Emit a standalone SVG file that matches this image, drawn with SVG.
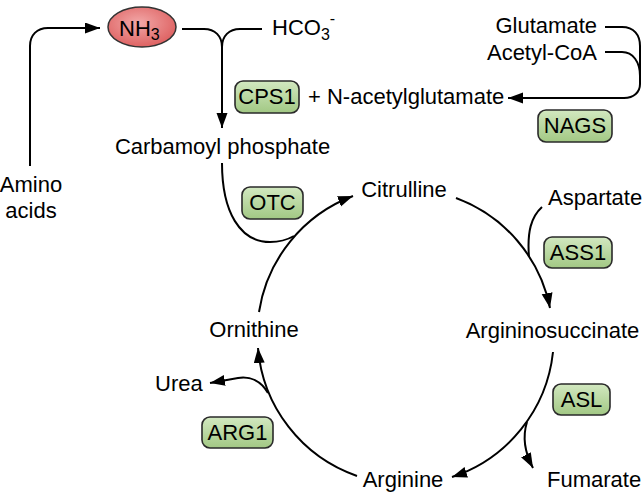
<svg xmlns="http://www.w3.org/2000/svg" width="643" height="497" viewBox="0 0 643 497">
<defs>
<style>
text{font-family:"Liberation Sans",Arial,sans-serif;font-size:22px;fill:#000}
.m{text-anchor:middle}
.e{text-anchor:end}
.ln{fill:none;stroke:#000;stroke-width:2}
.enz rect{fill:url(#g);stroke:#2a2a2a;stroke-width:1.6}
</style>
<linearGradient id="g" x1="0" y1="0" x2="0" y2="1">
<stop offset="0" stop-color="#d2e8c0"/>
<stop offset="1" stop-color="#a2c884"/>
</linearGradient>
<radialGradient id="r" cx="0.45" cy="0.4" r="0.6">
<stop offset="0" stop-color="#f2a8a8"/>
<stop offset="1" stop-color="#de6262"/>
</radialGradient>
<marker id="a" markerUnits="userSpaceOnUse" markerWidth="17" markerHeight="12" refX="15" refY="5.5" orient="auto">
<path d="M0,0 L15,5.5 L0,11 z" fill="#000"/>
</marker>
</defs>

<g id="connectors">
<path class="ln" d="M30,166 L30,46 C30,35 37,28 48,28 L100,28" marker-end="url(#a)"/>
<path class="ln" d="M182,29 L204,29 C215,29 222,36 222,47 L222,128" marker-end="url(#a)"/>
<path class="ln" d="M262,29 L240,29 C229,29 222,36 222,47"/>
<path class="ln" d="M605,27 L622,27 C634,27 640,35 640,46 L640,84 C640,92 634,98 624,98 L508,98" marker-end="url(#a)"/>
<path class="ln" d="M605,52 L622,52 C633,52 640,62 640,76"/>
<path class="ln" d="M222,163 C222,212 240,242 270,242 C280,242 287,240 294,236"/>
<path class="ln" d="M259,312 A148,148 0 0 1 353,196" marker-end="url(#a)"/>
<path class="ln" d="M456,198 A148,148 0 0 1 550,308" marker-end="url(#a)"/>
<path class="ln" d="M553,352 A148,148 0 0 1 452,477" marker-end="url(#a)"/>
<path class="ln" d="M357,476 A148,148 0 0 1 258,348" marker-end="url(#a)"/>
<path class="ln" d="M542,207 C531,217 527,232 529,257"/>
<path class="ln" d="M527,422 C522,438 525,453 533,468" marker-end="url(#a)"/>
<path class="ln" d="M268,393 C261,381 250,376 238,378 L210,383" marker-end="url(#a)"/>
</g>

<g id="nh3">
<ellipse cx="142" cy="27" rx="34" ry="20" fill="url(#r)" stroke="#333" stroke-width="1.5"/>
<text x="119" y="36" font-size="23">NH<tspan font-size="16" dy="4">3</tspan></text>
</g>
<g id="hco3"><text x="272" y="35">HCO<tspan font-size="16" dy="5">3</tspan><tspan font-size="16" dy="-16">-</tspan></text></g>
<g id="amino"><text class="m" x="31" y="192">Amino</text><text class="m" x="31" y="218">acids</text></g>
<g id="glutamate"><text class="e" x="597" y="33">Glutamate</text></g>
<g id="acetylcoa"><text class="e" x="597" y="60">Acetyl-CoA</text></g>
<g id="nag"><text x="308" y="104">+ N-acetylglutamate</text></g>
<g id="carbamoyl"><text class="m" x="222.5" y="154">Carbamoyl phosphate</text></g>
<g id="citrulline"><text class="m" x="404" y="197">Citrulline</text></g>
<g id="aspartate"><text x="548" y="205">Aspartate</text></g>
<g id="argininosuccinate"><text class="m" x="552.5" y="338">Argininosuccinate</text></g>
<g id="ornithine"><text class="m" x="254" y="337">Ornithine</text></g>
<g id="urea"><text x="155" y="391">Urea</text></g>
<g id="arginine"><text class="m" x="403" y="487">Arginine</text></g>
<g id="fumarate"><text x="547" y="487">Fumarate</text></g>

<g id="cps1" class="enz"><rect x="235" y="81" width="64" height="32" rx="8"/><text class="m" x="267" y="104">CPS1</text></g>
<g id="nags" class="enz"><rect x="538" y="110" width="74" height="32" rx="8"/><text class="m" x="575" y="133">NAGS</text></g>
<g id="otc" class="enz"><rect x="242" y="187" width="61" height="32" rx="8"/><text class="m" x="272.5" y="210">OTC</text></g>
<g id="ass1" class="enz"><rect x="544" y="237" width="68" height="31" rx="8"/><text class="m" x="578" y="260">ASS1</text></g>
<g id="asl" class="enz"><rect x="553" y="384" width="57" height="31" rx="8"/><text class="m" x="581.5" y="407">ASL</text></g>
<g id="arg1" class="enz"><rect x="202" y="417" width="71" height="31" rx="8"/><text class="m" x="237.5" y="440">ARG1</text></g>
</svg>
